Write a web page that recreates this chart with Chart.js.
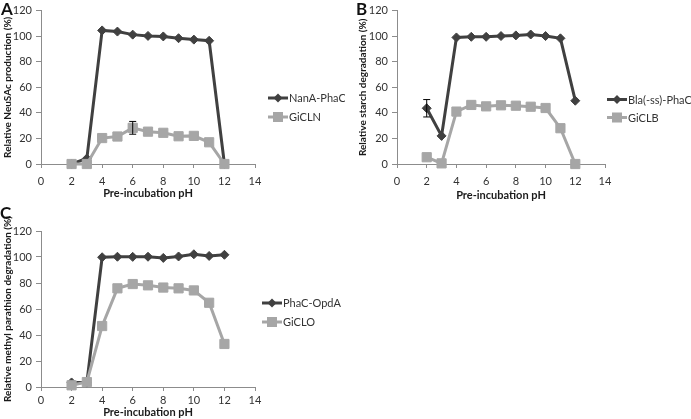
<!DOCTYPE html>
<html>
<head>
<meta charset="utf-8">
<script src="https://cdn.jsdelivr.net/npm/chart.js@4.4.0/dist/chart.umd.min.js"></script>
<style>
  body { margin: 0; background: #fff; width: 691px; height: 419px; overflow: hidden; position: relative; font-family: Lato, sans-serif; }
  .panel { position: absolute; }
  .letter { position: absolute; font: bold 17px Lato, sans-serif; color: #111; line-height: 17px; }
</style>
</head>
<body>
<div class="panel" style="left:0;top:0;width:345px;height:205px"><canvas id="chartA"></canvas></div>
<div class="panel" style="left:345px;top:0;width:346px;height:205px"><canvas id="chartB"></canvas></div>
<div class="panel" style="left:0;top:205px;width:345px;height:214px"><canvas id="chartC"></canvas></div>
<div class="letter" style="left:1px;top:0px">A</div>
<div class="letter" style="left:356px;top:0px">B</div>
<div class="letter" style="left:0px;top:204px">C</div>
<script>
// pH de pré-incubation (axe x)
var phValues = [2, 3, 4, 5, 6, 7, 8, 9, 10, 11, 12];
var xTicks = [0, 2, 4, 6, 8, 10, 12, 14];
var yTicks = [0, 20, 40, 60, 80, 100, 120];

// Panneau A
var nanaPhaC = [0, 4.3, 104.5, 103.6, 101.2, 100.2, 99.8, 98.4, 97.3, 96.4, 0];
var giCLN = [0, 0, 20.3, 21.5, 28.3, 25.3, 24.4, 21.7, 22, 17, 0];
var giCLNErr = [0, 0, 0, 0, 5, 0, 0, 0, 0, 0, 0];

// Panneau B
var blaPhaC = [43.6, 22, 99, 99.5, 99.5, 100.1, 100.6, 101.3, 100.1, 98.3, 49.5];
var blaPhaCErr = [6.8, 0, 0, 0, 0, 0, 0, 0, 0, 0, 0];
var giCLB = [5.3, 0.5, 41, 46.2, 45.1, 45.9, 45.6, 44.8, 43.8, 28, 0];

// Panneau C
var phaCOpdA = [3.5, 3.4, 99.8, 100.2, 100.1, 100.2, 99.3, 100.4, 102.1, 100.8, 101.7];
var giCLO = [1.3, 3.8, 46.9, 75.9, 79.2, 78.2, 76.5, 75.9, 74.3, 64.8, 33.1];

var darkColor = '#404040';
var lightColor = '#a6a6a6';
var axisColor = '#8c8c8c';
var textColor = '#333333';
var fontFamily = 'Lato, sans-serif';

function toPoints(values) {
    return phValues.map(function(x, i) { return { x: x, y: values[i] }; });
}

function darkSeries(label, values, errors) {
    return {
        label: label,
        data: toPoints(values),
        errors: errors || null,
        borderColor: darkColor,
        backgroundColor: darkColor,
        borderWidth: 3,
        pointStyle: 'rectRot',
        pointRadius: 4.5,
        pointBorderWidth: 1,
        pointBackgroundColor: darkColor,
        pointBorderColor: darkColor,
        clip: false,
        order: 1
    };
}

function lightSeries(label, values, errors) {
    return {
        label: label,
        data: toPoints(values),
        errors: errors || null,
        borderColor: lightColor,
        backgroundColor: lightColor,
        borderWidth: 3,
        pointStyle: 'rect',
        pointRadius: 6.5,
        pointBorderWidth: 1,
        pointBackgroundColor: lightColor,
        pointBorderColor: lightColor,
        clip: false,
        order: 0
    };
}

// Barres d'erreur
var errorBarsPlugin = {
    id: 'errorBars',
    afterDatasetsDraw: function(chart) {
        var ctx = chart.ctx;
        var xs = chart.scales.x, ys = chart.scales.y;
        ctx.save();
        ctx.strokeStyle = '#000';
        ctx.lineWidth = 1;
        chart.data.datasets.forEach(function(ds) {
            if (!ds.errors) return;
            ds.data.forEach(function(p, i) {
                var e = ds.errors[i];
                if (!e) return;
                var px = xs.getPixelForValue(p.x);
                var top = ys.getPixelForValue(p.y + e);
                var bot = ys.getPixelForValue(p.y - e);
                ctx.beginPath();
                ctx.moveTo(px, top); ctx.lineTo(px, bot);
                ctx.moveTo(px - 3.5, top); ctx.lineTo(px + 3.5, top);
                ctx.moveTo(px - 3.5, bot); ctx.lineTo(px + 3.5, bot);
                ctx.stroke();
            });
        });
        ctx.restore();
    }
};

// Légende à droite (ligne + marqueur)
var sideLegendPlugin = {
    id: 'sideLegend',
    afterDraw: function(chart, args, opts) {
        var ctx = chart.ctx;
        ctx.save();
        chart.data.datasets.forEach(function(ds, i) {
            var x = opts.x, y = opts.ys[i];
            ctx.strokeStyle = ds.borderColor;
            ctx.lineWidth = 3;
            ctx.beginPath();
            ctx.moveTo(x, y); ctx.lineTo(x + 20, y);
            ctx.stroke();
            ctx.fillStyle = ds.borderColor;
            if (ds.pointStyle === 'rect') {
                ctx.fillRect(x + 5, y - 5, 10, 10);
            } else {
                ctx.beginPath();
                ctx.moveTo(x + 10, y - 4.5); ctx.lineTo(x + 14.5, y);
                ctx.lineTo(x + 10, y + 4.5); ctx.lineTo(x + 5.5, y);
                ctx.closePath(); ctx.fill();
            }
            ctx.fillStyle = textColor;
            ctx.font = '11px ' + fontFamily;
            ctx.textBaseline = 'middle';
            ctx.textAlign = 'left';
            ctx.fillText(ds.label, x + 21, y + 0.5);
        });
        ctx.restore();
    }
};

function makeChart(id, datasets, yTitle, p) {
    var ctx = document.getElementById(id).getContext('2d');
    return new Chart(ctx, {
        type: 'line',
        data: { datasets: datasets },
        plugins: [errorBarsPlugin, sideLegendPlugin],
        options: {
            responsive: true,
            maintainAspectRatio: false,
            animation: false,
            layout: { padding: { left: 0, top: p.top, right: p.right, bottom: 0 } },
            plugins: {
                legend: { display: false },
                tooltip: { enabled: false },
                sideLegend: { x: p.legendX, ys: p.legendYs }
            },
            scales: {
                x: {
                    type: 'linear',
                    min: 0, max: 14,
                    afterBuildTicks: function(s) { s.ticks = xTicks.map(function(v) { return { value: v }; }); },
                    afterFit: function(s) { s.height = p.xHeight; },
                    grid: { drawOnChartArea: false, drawTicks: true, tickLength: 4, color: axisColor },
                    border: { color: axisColor, width: 1 },
                    ticks: { color: textColor, font: { family: fontFamily, size: 11 }, padding: p.xPad, autoSkip: false, maxRotation: 0 },
                    title: { display: true, text: 'Pre-incubation pH', color: '#1a1a1a',
                             font: { family: fontFamily, size: 11, weight: 'bold' }, padding: { top: 0, bottom: p.xTitlePad } }
                },
                y: {
                    type: 'linear',
                    min: 0, max: 120,
                    afterBuildTicks: function(s) { s.ticks = yTicks.map(function(v) { return { value: v }; }); },
                    afterFit: function(s) { s.width = p.yWidth; },
                    grid: { drawOnChartArea: false, drawTicks: true, tickLength: 5, color: axisColor },
                    border: { color: axisColor, width: 1 },
                    ticks: { color: textColor, font: { family: fontFamily, size: 11 }, padding: 4 },
                    title: { display: true, text: yTitle, color: '#1a1a1a',
                             font: { family: fontFamily, size: 10, weight: 'bold' }, padding: { top: p.yTitlePad, bottom: 0 } }
                }
            }
        }
    });
}

makeChart('chartA',
    [darkSeries('NanA-PhaC', nanaPhaC), lightSeries('GiCLN', giCLN, giCLNErr)],
    'Relative NeuSAc production (%)',
    { top: 8, right: 90, xHeight: 41, xPad: 7, xTitlePad: 5, yWidth: 41, yTitlePad: 2, legendX: 268, legendYs: [98, 117] });

makeChart('chartB',
    [darkSeries('Bla(-ss)-PhaC', blaPhaC, blaPhaCErr), lightSeries('GiCLB', giCLB)],
    'Relative starch degradation (%)',
    { top: 8, right: 86, xHeight: 41, xPad: 7, xTitlePad: 3, yWidth: 52, yTitlePad: 12, legendX: 262, legendYs: [99.5, 117.5] });

makeChart('chartC',
    [darkSeries('PhaC-OpdA', phaCOpdA), lightSeries('GiCLO', giCLO)],
    'Relative methyl parathion degradation (%)',
    { top: 26, right: 90, xHeight: 32, xPad: 3, xTitlePad: 0, yWidth: 41, yTitlePad: 2, legendX: 262, legendYs: [98, 117] });
</script>
</body>
</html>
